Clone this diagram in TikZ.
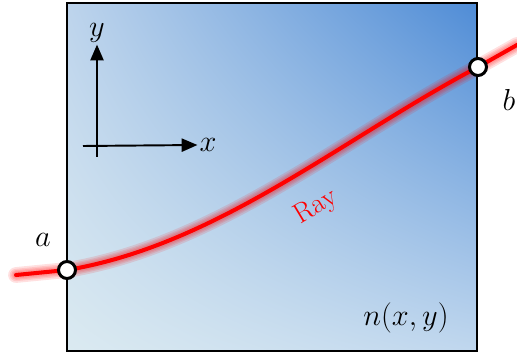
\documentclass[tikz,border=0pt]{standalone}
\usetikzlibrary{arrows.meta, shadings}

\definecolor{mediumTL}{HTML}{BDD4EC}
\definecolor{mediumTR}{HTML}{4F8CD6}
\definecolor{mediumBR}{HTML}{C0D7EE}
\definecolor{mediumBL}{HTML}{DBEAF1}
\definecolor{rayred}{HTML}{FF0000}

\begin{document}
\begin{tikzpicture}[
  x=0.02cm, y=-0.02cm,
  font=\fontsize{17}{20}\selectfont,
  % Estilos
  medium/.style={draw=black, line width=1.3pt, lower left=mediumBL, upper left=mediumTL, upper right=mediumTR, lower right=mediumBR},
  axis/.style={draw, line width=1.1pt, -{Triangle[length=9pt,width=7.5pt]}},
  glow/.style={draw=rayred, line cap=round, opacity=0.12},
  ray/.style={draw=rayred, line width=2.3pt, line cap=round},
  endpoint/.style={draw=black, circle, fill=white, line width=1.7pt, minimum size=0.34cm, inner sep=0pt},
  lbl/.style={inner sep=1pt}
]
  \useasboundingbox (0,0) rectangle (517,354);

  % ==========================================
  % MEDIUM n(x,y)
  % ==========================================
  \shade[medium] (67,3) rectangle (477,351);
  \draw[line width=1.3pt] (67,3) rectangle (477,351);
  \node[lbl] (medium) at (406,318) {$n(x,y)$};

  % ==========================================
  % AXES
  % ==========================================
  \coordinate (xstart) at (83,146);
  \coordinate (ystart) at (97,157);
  \node[lbl] (xlabel) at (208,145) {$x$};
  \node[lbl] (ylabel) at (97,33) {$y$};
  \draw[axis] (xstart) -- (xlabel.west);
  \draw[axis] (ystart) -- (ylabel.south);

  % ==========================================
  % RAY
  % ==========================================
  \coordinate (rin) at (16,275);
  \coordinate (a) at (67,270);
  \coordinate (b) at (478,67);
  \coordinate (rout) at (517,45);
  \foreach \w in {9pt,7pt,5.5pt,4pt} {
    \draw[glow, line width=\w] (rin) -- (a) .. controls (217,245) and (340,140) .. (b) -- (rout);
  }
  \draw[ray] (rin) -- (a) .. controls (217,245) and (340,140) .. (b) -- (rout);
  \node[text=rayred, rotate=31, inner sep=0pt, font=\fontsize{16}{18}\selectfont] (raylabel) at (316,207) {Ray};

  % Endpoints
  \node[endpoint] (pa) at (a) {};
  \node[endpoint] (pb) at (b) {};
  \node[lbl] (alabel) at (43,240) {$a$};
  \node[lbl] (blabel) at (509,100) {$b$};

\end{tikzpicture}
\end{document}
